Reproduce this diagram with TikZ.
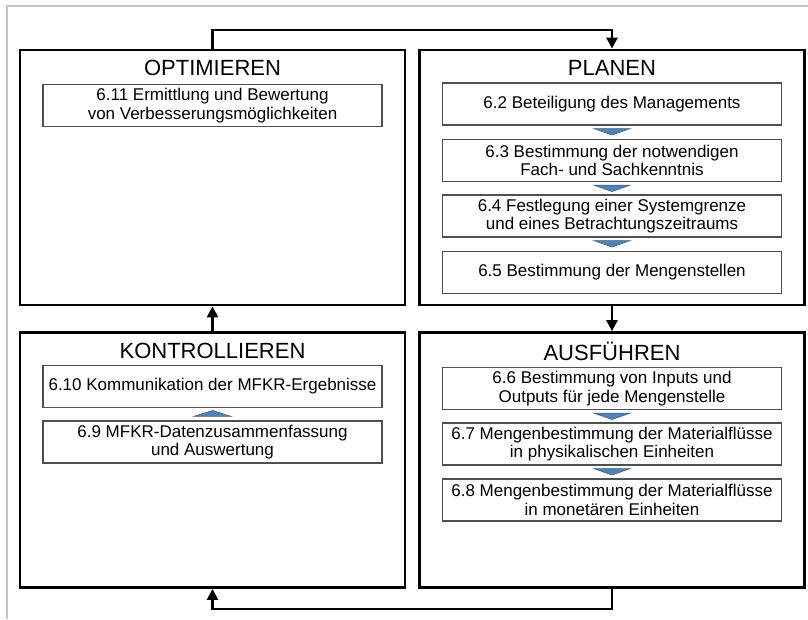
\documentclass[tikz,border=0pt]{standalone}
\usepackage{fontspec}
\setmainfont{Liberation Sans}
\usetikzlibrary{arrows.meta,calc}
\definecolor{triblue}{HTML}{4F81BD}
\definecolor{tridark}{HTML}{385D8A}
\definecolor{framegray}{HTML}{C4C4C4}
\definecolor{innergray}{HTML}{505050}
\begin{document}
\begin{tikzpicture}[x=1pt,y=-1pt,
  outerbox/.style={draw=black,line width=2.8pt,minimum width=385pt,minimum height=255pt,inner sep=0pt},
  titletext/.style={font=\fontsize{22}{24}\selectfont,inner sep=0pt},
  innerbox/.style={draw=innergray,line width=1.1pt,minimum width=339pt,minimum height=42pt,align=center,inner sep=1pt,font=\fontsize{17}{18.5}\selectfont},
  conn/.style={line width=2.4pt,-{Triangle[length=11pt,width=11pt]}},
  tri/.style={fill=triblue,draw=tridark,line width=0.5pt}]
\useasboundingbox (0,0) rectangle (808,619);
\draw[framegray,line width=1.5pt] (808,6) -- (7,6) -- (7,619);

% outer boxes
\node[outerbox] (opt) at (212.5,177.5) {};
\node[outerbox] (plan) at (612,177.5) {};
\node[outerbox] (kon) at (212.5,460) {};
\node[outerbox] (aus) at (612,460) {};

% titles
\node[titletext] (optt) at (212.5,68) {OPTIMIEREN};
\node[titletext] (plant) at (612,68) {PLANEN};
\node[titletext] (kont) at (212.5,351) {KONTROLLIEREN};
\node[titletext] (aust) at (612,351) {AUSFÜHREN};

% inner boxes
\node[innerbox] (b611) at (212.5,105.5) {6.11 Ermittlung und Bewertung\\von Verbesserungsmöglichkeiten};
\node[innerbox] (b62) at (612,104) {6.2 Beteiligung des Managements};
\node[innerbox] (b63) at (612,160.5) {6.3 Bestimmung der notwendigen\\Fach- und Sachkenntnis};
\node[innerbox] (b64) at (612,216) {6.4 Festlegung einer Systemgrenze\\und eines Betrachtungszeitraums};
\node[innerbox] (b65) at (612,272.5) {6.5 Bestimmung der Mengenstellen};
\node[innerbox] (b610) at (212.5,386.5) {6.10 Kommunikation der MFKR-Ergebnisse};
\node[innerbox] (b69) at (212.5,442) {6.9 MFKR-Datenzusammenfassung\\und Auswertung};
\node[innerbox] (b66) at (612,388.5) {6.6 Bestimmung von Inputs und\\Outputs für jede Mengenstelle};
\node[innerbox] (b67) at (612,444) {6.7 Mengenbestimmung der Materialflüsse\\in physikalischen Einheiten};
\node[innerbox] (b68) at (612,500) {6.8 Mengenbestimmung der Materialflüsse\\in monetären Einheiten};

% small triangles
\foreach \b in {b62,b63,b64,b66,b67}{
  \draw[tri] ([xshift=-18.5pt,yshift=-3pt]\b.south) -- ([xshift=18.5pt,yshift=-3pt]\b.south) -- ([yshift=-9.5pt]\b.south) -- cycle;
}
\draw[tri] ([xshift=-19pt,yshift=4pt]b69.north) -- ([xshift=19pt,yshift=4pt]b69.north) -- ([yshift=10pt]b69.north) -- cycle;

% connectors
\coordinate (top) at (0,30);
\coordinate (bot) at (0,609);
\draw[conn] (opt.north) -- (opt.north |- top) -| (plan.north);
\draw[conn] (plan.south) -- (aus.north);
\draw[conn] (aus.south) -- (aus.south |- bot) -| (kon.south);
\draw[conn] (kon.north) -- (opt.south);
\end{tikzpicture}
\end{document}
